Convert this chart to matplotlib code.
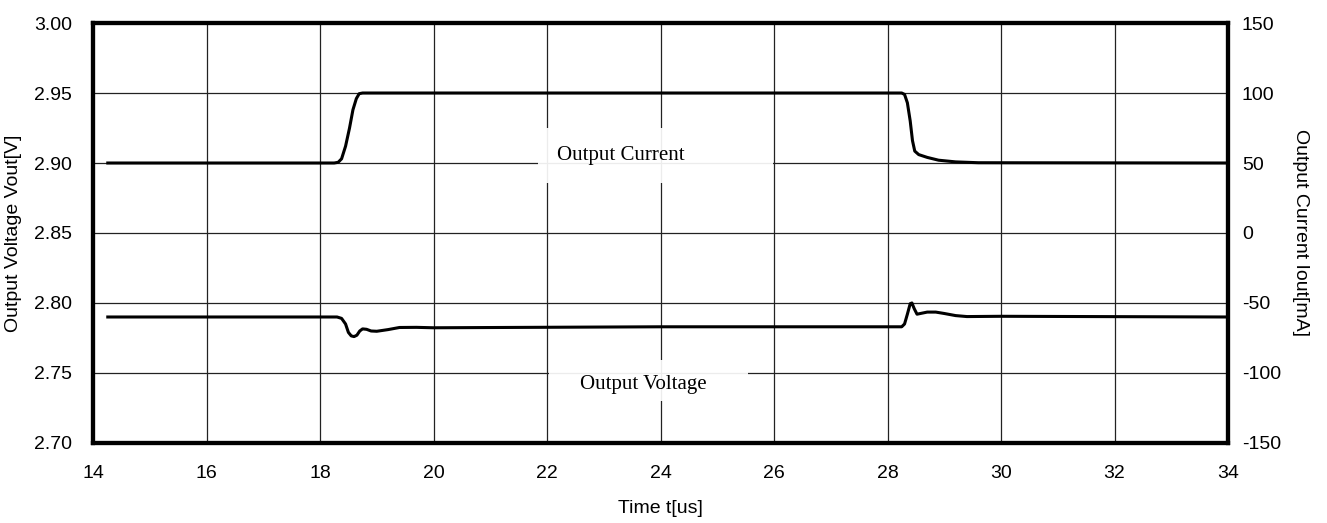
import matplotlib
matplotlib.use("Agg")
import matplotlib.pyplot as plt
from matplotlib.patches import Rectangle

# ---- data ----
t_current = [14.26, 18.25, 18.32, 18.38, 18.45, 18.52, 18.58, 18.64, 18.69, 18.75,
             28.25, 28.30, 28.35, 28.40, 28.44, 28.48, 28.55, 28.70, 28.90, 29.20, 29.60, 34.0]
i_current = [50, 50, 50.5, 53, 62, 75, 88, 96, 99.5, 100,
             100, 99, 93, 80, 66, 58.5, 56, 54, 52, 50.8, 50.2, 50]

t_voltage = [14.26, 18.30, 18.38, 18.45, 18.50, 18.55, 18.60, 18.65, 18.70, 18.75, 18.82,
             18.90, 19.00, 19.20, 19.40, 19.70, 20.00, 24.00, 28.25, 28.30, 28.35, 28.40,
             28.43, 28.47, 28.52, 28.58, 28.70, 28.85, 29.00, 29.20, 29.40, 30.00, 34.00]
v_voltage = [2.790, 2.790, 2.789, 2.785, 2.779, 2.7765, 2.776, 2.777, 2.780, 2.7815, 2.7812,
             2.7800, 2.7798, 2.781, 2.7825, 2.7826, 2.7823, 2.783, 2.783, 2.785, 2.792, 2.7995,
             2.800, 2.796, 2.792, 2.7925, 2.7935, 2.7935, 2.7925, 2.791, 2.7903, 2.7905, 2.790]

x_ticks = [14, 16, 18, 20, 22, 24, 26, 28, 30, 32, 34]
v_ticks = [2.70, 2.75, 2.80, 2.85, 2.90, 2.95, 3.00]
i_ticks = [-150, -100, -50, 0, 50, 100, 150]

plt.rcParams['font.family'] = ['Liberation Sans', 'DejaVu Sans']
plt.rcParams['axes.unicode_minus'] = False

fig = plt.figure(figsize=(13.27, 5.23), dpi=100)
ax = fig.add_axes([0.0701, 0.153, 0.8553, 0.803])
ax2 = ax.twinx()

ax.set_xlim(14, 34)
ax.set_ylim(2.70, 3.00)
ax2.set_ylim(-150, 150)
ax.set_xticks(x_ticks)
ax.set_yticks(v_ticks)
ax2.set_yticks(i_ticks)
ax.set_yticklabels([f"{v:.2f}" for v in v_ticks])
ax2.set_yticklabels([str(v) for v in i_ticks])
ax.grid(True, color='#222222', linewidth=0.9)
ax.set_axisbelow(True)

ax.tick_params(axis='both', length=0, labelsize=14)
ax.tick_params(axis='y', pad=15)
ax.tick_params(axis='x', pad=16)
ax2.tick_params(axis='y', length=0, labelsize=14, pad=10)

for a in (ax, ax2):
    for s in a.spines.values():
        s.set_linewidth(3)
        s.set_color('black')

# white label boxes (covering grid)
ax.add_patch(Rectangle((21.84, 2.8857), 4.14, 0.0393, facecolor='white',
                       edgecolor='none', alpha=0.92, zorder=1.5))
ax.add_patch(Rectangle((22.04, 2.7300), 3.51, 0.0290, facecolor='white',
                       edgecolor='none', alpha=0.92, zorder=1.5))

ax.plot(t_voltage, v_voltage, color='black', linewidth=2.2, zorder=3)
ax2.plot(t_current, i_current, color='black', linewidth=2.2, zorder=3)

ax.text(23.30, 2.9057, "Output Current", family=['Liberation Serif', 'DejaVu Serif'],
        fontsize=15, ha='center', va='center', zorder=4)
ax.text(23.69, 2.742, "Output Voltage", family=['Liberation Serif', 'DejaVu Serif'],
        fontsize=15, ha='center', va='center', zorder=4)

ax.set_xlabel("Time t[us]", fontsize=14, labelpad=13)
ax.set_ylabel("Output Voltage Vout[V]", fontsize=14, labelpad=9)
ax2.set_ylabel("Output Current Iout[mA]", fontsize=14, rotation=270, labelpad=20)

fig.savefig("out.png", dpi=100)
